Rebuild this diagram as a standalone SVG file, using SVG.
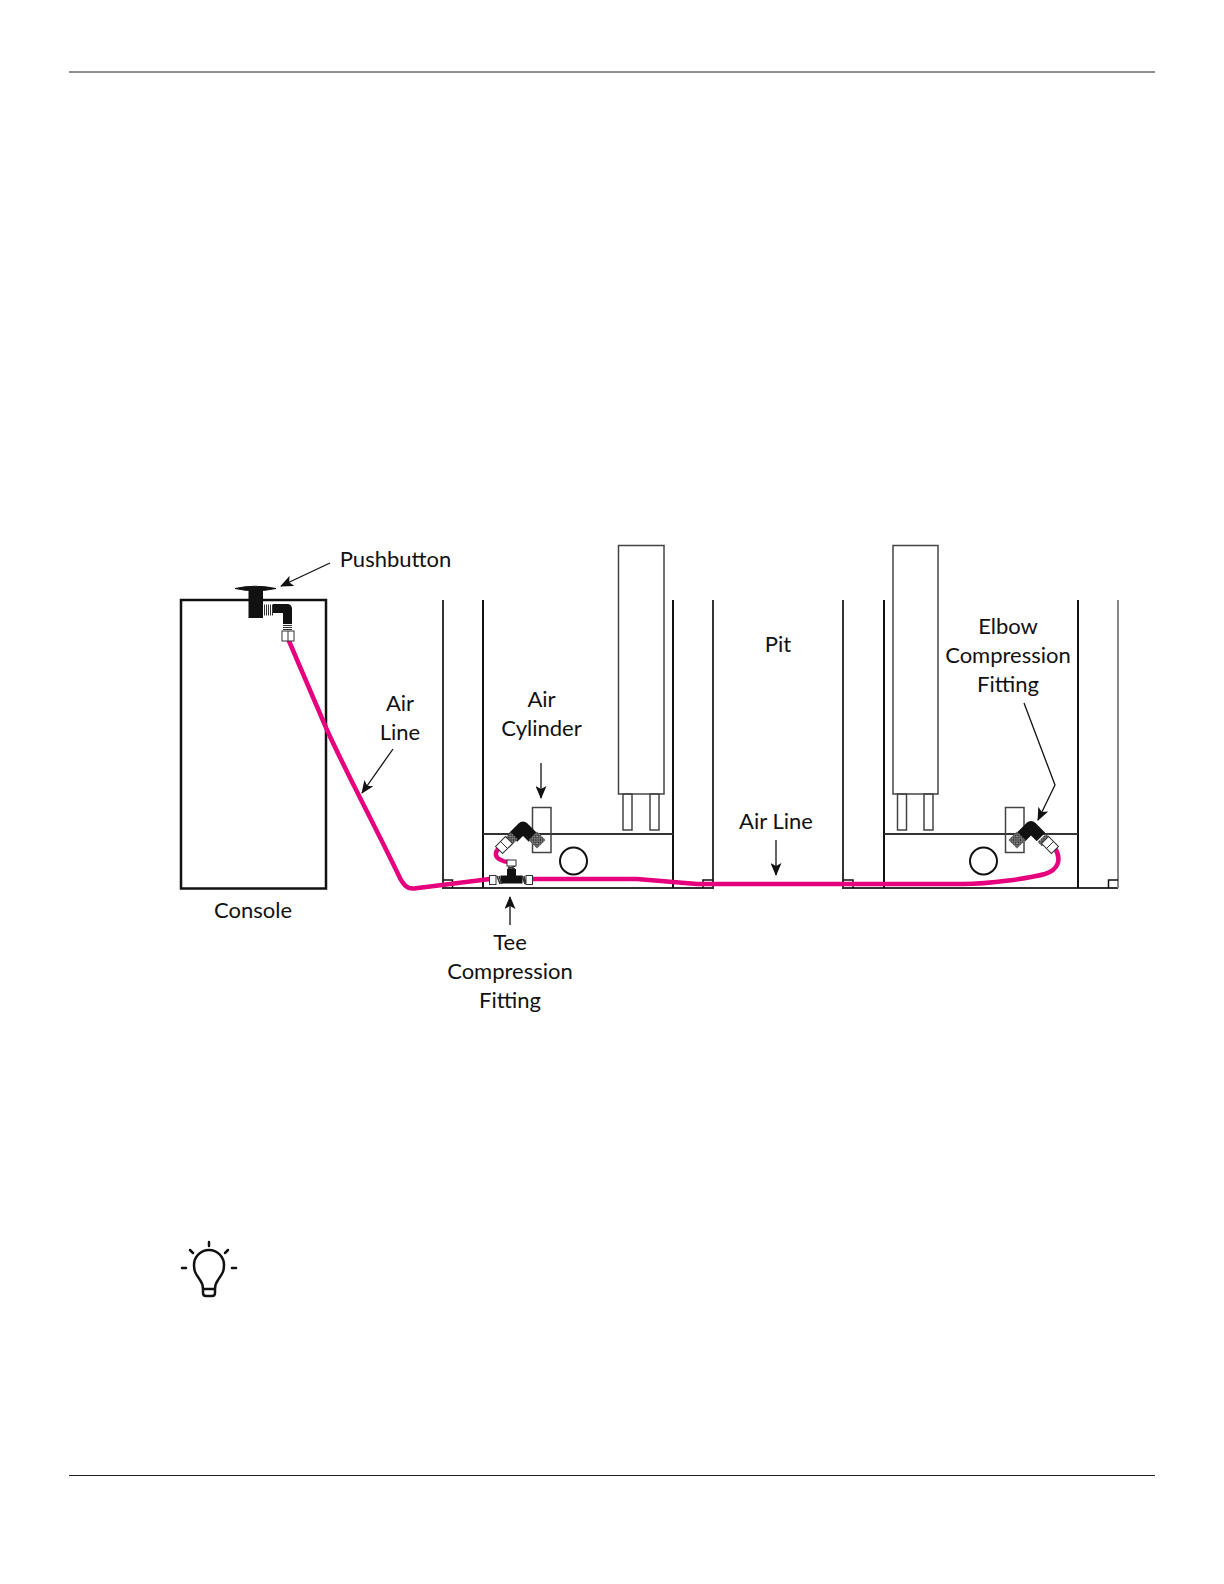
<svg xmlns="http://www.w3.org/2000/svg" width="1224" height="1584" viewBox="0 0 1224 1584">
<style>
text{font-family:Lato,"Open Sans",sans-serif;font-size:22px;fill:#111;text-anchor:middle}
.w{fill:none;stroke:#111;stroke-width:2}
.o{fill:none;stroke:#333;stroke-width:2}
.t{fill:none;stroke:#111;stroke-width:2.5}
.g{fill:none;stroke:#444;stroke-width:1.5}
.f{fill:#fff;stroke:#333;stroke-width:1}
.a{fill:none;stroke:#111;stroke-width:1.3;marker-end:url(#ah)}
.air{fill:none;stroke:#e6007e;stroke-width:4.500;stroke-linejoin:round;stroke-linecap:round}
.el{fill:none;stroke:#111;stroke-width:12;stroke-linejoin:round}
.c{stroke:#333;stroke-width:1;fill:none}
.b{fill:none;stroke:#111;stroke-width:2.500;stroke-linecap:round;stroke-linejoin:round}
</style>
<defs>
<marker id="ah" markerUnits="userSpaceOnUse" markerWidth="13" markerHeight="11" refX="12" refY="5.500" orient="auto"><path d="M0 0L13 5.500L0 11L3 5.500Z" fill="#111"/></marker>
<pattern id="chk" width="2.500" height="2.500" patternUnits="userSpaceOnUse"><rect width="2.500" height="2.500" fill="#222"/><rect width="1.250" height="1.250" fill="#aaa"/><rect x="1.250" y="1.250" width="1.250" height="1.250" fill="#999"/></pattern>
</defs>
<g id="rules"><path d="M69 72H1155M69 1475.500H1155" stroke="#222" stroke-width="1" fill="none"/></g>
<g id="console"><rect class="t" x="181" y="600" width="145" height="288.500"/><text x="253" y="918">Console</text></g>
<g id="pit-structure">
<path class="o" d="M443 600V888H713V600"/><path class="w" d="M483 600V888M673 600V888"/><path class="o" d="M483 834H673"/>
<path class="o" d="M843 600V888H1118"/><path class="w" d="M884 600V888M1078 600V888"/><path class="o" d="M884 834H1078"/>
<path d="M1118 600V888" stroke="#888" stroke-width="2" fill="none"/>
<path d="M443 880H452.500V888M703 888V880H713M843 880H853V888M1118 880H1108.500V888" fill="none" stroke="#111" stroke-width="1.500"/>
</g>
<g id="left-pole"><rect class="g" x="618.500" y="545.500" width="45.500" height="248.500"/><rect class="g" x="623" y="794" width="9" height="36"/><rect class="g" x="650" y="794" width="9" height="36"/></g>
<g id="right-pole"><rect class="g" x="893" y="545.500" width="45" height="248.500"/><rect class="g" x="897.500" y="794" width="9" height="36"/><rect class="g" x="924" y="794" width="9" height="36"/></g>
<g id="left-cylinder"><rect class="g" x="532.500" y="807.500" width="18.500" height="45"/><circle cx="573.500" cy="861" r="13.500" fill="none" stroke="#111" stroke-width="2"/></g>
<g id="right-cylinder"><rect class="g" x="1005.500" y="807.500" width="18.500" height="45"/><circle cx="983.500" cy="861" r="13.500" fill="none" stroke="#111" stroke-width="2"/></g>
<g id="connectors">
<path class="air" d="M289 641L327 730C345 770 378 832 398 874C403 885 407 889 414 888.500L490 879"/>
<path class="air" d="M533 879H637L697 884H963C990 884 1030 878 1045 874C1058 870 1062 860 1055 848"/>
<path class="air" d="M498 849C494 854 496 858 501 860C504 862 507 862 509 862"/>
<path class="a" d="M330 563L281 586"/>
<path class="a" d="M393 749L362 793"/>
<path class="a" d="M541 763V798"/>
<path class="a" d="M776 840V875"/>
<path class="a" d="M510 925V897"/>
<path class="a" d="M1024 703L1055 785L1038 820"/>
</g>
<g id="pushbutton">
<path d="M235 588.500Q255 584 276 588.500Q255 593 235 588.500Z" fill="#111" stroke="#111"/>
<rect x="248.500" y="587" width="14.500" height="31" fill="#111"/>
<path d="M273 608.500H287.500V625" fill="none" stroke="#111" stroke-width="9" stroke-linejoin="round"/>
<rect x="263" y="604" width="10" height="12" fill="#fff"/>
<path class="c" d="M264.500 604.500V615.500M266.500 604.500V615.500M268.500 604.500V615.500M270.500 604.500V615.500M272.500 604.500V615.500"/>
<rect x="283" y="624" width="9" height="7" fill="#fff"/>
<path class="c" d="M283 625.500H292M283 627.500H292M283 629.500H292"/>
<rect class="f" x="282" y="631" width="12" height="10"/><path class="c" d="M288 631V641"/>
</g>
<g id="left-elbow">
<path class="el" d="M513 837.500L523 827.500L533 837.500"/>
<rect x="-6" y="-5" width="12" height="10" fill="url(#chk)" transform="translate(510 840) rotate(-45)"/>
<rect x="-6" y="-6" width="12" height="12" fill="url(#chk)" transform="translate(537 840) rotate(-45)"/>
<rect class="f" x="-7" y="-5" width="14" height="10" transform="translate(504 845) rotate(-45)"/>
<path class="c" d="M500.500 841.500L507.500 848.500"/>
</g>
<g id="tee">
<rect x="500.500" y="875.500" width="22" height="8" fill="#111"/><rect x="507" y="869" width="9" height="7" fill="#111"/>
<path d="M497 876L500 884M499 876L502 884M522 876L525 884M524 876L526 884M508 867L515 869M508 869L515 866" stroke="#333" stroke-width="1.500" fill="none"/>
<rect class="f" x="489.500" y="875.500" width="6.500" height="9"/><rect class="f" x="526" y="875.500" width="6.500" height="9"/><rect class="f" x="507" y="860" width="9" height="6"/>
</g>
<g id="right-elbow">
<path class="el" d="M1021 837L1031 827L1041 837"/>
<rect x="-6" y="-6" width="12" height="12" fill="url(#chk)" transform="translate(1017 840) rotate(-45)"/>
<rect x="-3" y="-6" width="6" height="12" fill="url(#chk)" transform="translate(1044 840) rotate(45)"/>
<rect class="f" x="-7" y="-5" width="14" height="10" transform="translate(1050 845) rotate(45)"/>
<path class="c" d="M1046.500 848.500L1053.500 841.500"/>
</g>
<g id="labels">
<text x="395.500" y="567">Pushbutton</text>
<text x="400" y="711">Air</text><text x="400" y="740">Line</text>
<text x="541.500" y="707">Air</text><text x="541.500" y="736">Cylinder</text>
<text x="778" y="652">Pit</text>
<text x="1008" y="634">Elbow</text><text x="1008" y="663">Compression</text><text x="1008" y="692">Fitting</text>
<text x="776" y="829">Air Line</text>
<text x="510" y="950">Tee</text><text x="510" y="979">Compression</text><text x="510" y="1008">Fitting</text>
</g>
<g id="tip-icon">
<path class="b" d="M203 1293V1289Q203 1284 200 1280C196 1274 194 1272 194 1265A15 15 0 0 1 224 1265C224 1272 222 1274 218 1280Q215 1284 215 1289V1293Q215 1296 212 1296H206Q203 1296 203 1293ZM203 1289H215"/>
<path class="b" d="M209 1242V1246M190 1250L193 1253M228 1250L225 1253M182 1268H186M232 1268H236"/>
</g>
</svg>
